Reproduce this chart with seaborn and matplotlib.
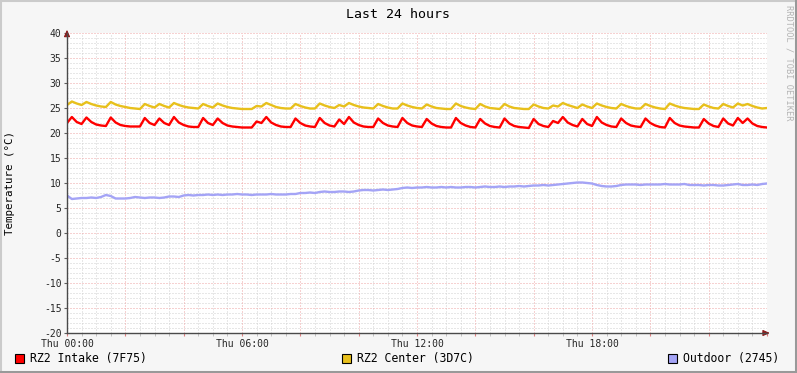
import numpy as np
import pandas as pd
import seaborn as sns
import matplotlib.pyplot as plt
import matplotlib.dates as mdates
from matplotlib.patches import Rectangle
from matplotlib.lines import Line2D

# 10-minute samples, Thu 00:00 .. Fri 00:00
times = pd.date_range("2024-01-04 00:00", periods=145, freq="10min")

intake = [
    22.0, 23.2, 22.2, 21.8, 23.1, 22.2, 21.7, 21.5, 21.4, 23.1,
    22.1, 21.6, 21.4, 21.3, 21.3, 21.3, 23.0, 22.0, 21.6, 22.9,
    22.0, 21.6, 23.2, 22.1, 21.6, 21.3, 21.2, 21.2, 23.0, 22.0,
    21.6, 22.9, 22.0, 21.5, 21.3, 21.2, 21.1, 21.1, 21.1, 22.3,
    22.0, 23.2, 22.1, 21.6, 21.3, 21.2, 21.2, 22.9, 22.0, 21.5,
    21.3, 21.2, 23.0, 22.0, 21.5, 21.3, 22.7, 21.8, 23.2, 22.1,
    21.6, 21.3, 21.2, 21.2, 22.9, 22.0, 21.5, 21.3, 21.2, 23.0,
    22.0, 21.5, 21.3, 21.2, 22.8, 21.9, 21.4, 21.2, 21.1, 21.1,
    23.0, 22.0, 21.5, 21.2, 21.1, 22.8, 21.9, 21.4, 21.2, 21.1,
    22.9, 21.9, 21.4, 21.2, 21.1, 21.0, 22.8, 21.8, 21.4, 21.2,
    22.4, 22.0, 23.2, 22.1, 21.6, 21.3, 22.8, 21.8, 21.4, 23.2,
    22.1, 21.6, 21.3, 21.2, 22.9, 22.0, 21.5, 21.3, 21.2, 22.9,
    22.0, 21.5, 21.2, 21.1, 23.0, 22.0, 21.5, 21.3, 21.2, 21.1,
    21.1, 22.8, 21.9, 21.4, 21.2, 22.9, 21.9, 21.5, 23.0, 22.0,
    22.9, 21.9, 21.4, 21.2, 21.1,
]

center = [
    25.6, 26.3, 25.9, 25.6, 26.2, 25.8, 25.5, 25.3, 25.2, 26.2,
    25.7, 25.4, 25.2, 25.0, 24.9, 24.8, 25.8, 25.4, 25.1, 25.8,
    25.4, 25.1, 26.0, 25.6, 25.3, 25.1, 25.0, 24.9, 25.8, 25.4,
    25.1, 25.9, 25.5, 25.2, 25.0, 24.9, 24.8, 24.8, 24.8, 25.4,
    25.3, 26.0, 25.6, 25.2, 25.0, 24.9, 24.9, 25.8, 25.4, 25.1,
    24.9, 24.9, 25.9, 25.5, 25.2, 25.0, 25.6, 25.3, 26.0, 25.6,
    25.3, 25.1, 25.0, 24.9, 25.8, 25.4, 25.1, 24.9, 24.9, 25.9,
    25.5, 25.2, 25.0, 24.9, 25.7, 25.3, 25.0, 24.9, 24.8, 24.8,
    25.9, 25.4, 25.1, 24.9, 24.8, 25.8, 25.3, 25.0, 24.9, 24.8,
    25.8, 25.3, 25.0, 24.9, 24.8, 24.8, 25.7, 25.3, 25.0, 24.9,
    25.5, 25.3, 26.0, 25.6, 25.3, 25.0, 25.7, 25.3, 25.0, 25.9,
    25.5, 25.2, 25.0, 24.9, 25.8, 25.4, 25.1, 24.9, 24.9, 25.8,
    25.4, 25.1, 24.9, 24.8, 25.9, 25.5, 25.2, 25.0, 24.9, 24.8,
    24.8, 25.7, 25.3, 25.0, 24.9, 25.8, 25.4, 25.1, 25.9, 25.5,
    25.8, 25.4, 25.1, 24.9, 25.0,
]

outdoor = [
    7.5, 6.8, 6.9, 7.0, 7.0, 7.1, 7.0, 7.2, 7.6, 7.4,
    6.9, 6.9, 6.9, 7.0, 7.2, 7.1, 7.0, 7.1, 7.1, 7.0,
    7.1, 7.3, 7.3, 7.2, 7.5, 7.6, 7.5, 7.6, 7.6, 7.7,
    7.6, 7.7, 7.6, 7.7, 7.7, 7.8, 7.7, 7.7, 7.6, 7.7,
    7.7, 7.7, 7.8, 7.7, 7.7, 7.7, 7.8, 7.8, 8.0, 8.0,
    8.1, 8.0, 8.2, 8.3, 8.2, 8.2, 8.3, 8.3, 8.2, 8.3,
    8.5, 8.6, 8.6, 8.5, 8.6, 8.7, 8.6, 8.7, 8.8, 9.0,
    9.1, 9.0, 9.1, 9.1, 9.2, 9.1, 9.1, 9.2, 9.1, 9.2,
    9.1, 9.1, 9.2, 9.2, 9.1, 9.2, 9.3, 9.2, 9.2, 9.3,
    9.2, 9.3, 9.3, 9.4, 9.3, 9.4, 9.5, 9.5, 9.6, 9.5,
    9.6, 9.7, 9.8, 9.9, 10.0, 10.1, 10.1, 10.0, 9.9, 9.6,
    9.4, 9.3, 9.3, 9.4, 9.6, 9.7, 9.7, 9.7, 9.6, 9.7,
    9.7, 9.7, 9.7, 9.8, 9.7, 9.7, 9.7, 9.8, 9.6, 9.6,
    9.6, 9.5, 9.6, 9.6, 9.5, 9.5, 9.6, 9.7, 9.8, 9.6,
    9.6, 9.7, 9.6, 9.8, 9.9,
]

series_names = ["RZ2 Intake (7F75)", "RZ2 Center (3D7C)", "Outdoor (2745)"]
colors = ["#FF0000", "#E8C01C", "#A4A4F6"]
y_ticks = [-20, -15, -10, -5, 0, 5, 10, 15, 20, 25, 30, 35, 40]

df = pd.DataFrame({"time": times, series_names[0]: intake,
                   series_names[1]: center, series_names[2]: outdoor})
long = df.melt(id_vars="time", var_name="sensor", value_name="temp")

sns.set_style("white")
plt.rcParams["font.family"] = ["DejaVu Sans Mono", "DejaVu Sans"]
plt.rcParams["axes.unicode_minus"] = False

W, H = 797, 373
fig = plt.figure(figsize=(W / 100, H / 100), dpi=100)
fig.patch.set_facecolor("#F6F6F6")
ax = fig.add_axes([67 / W, 1 - 333 / H, 700 / W, 300 / H])
ax.set_facecolor("white")

# grid first
minor_c = "#D0D0D0"
major_c = "#EFA4A4"
for v in range(-20, 41):
    if v % 5:
        ax.axhline(v, color=minor_c, lw=0.72, ls=(0, (1, 2)), zorder=0)
for v in y_ticks:
    ax.axhline(v, color=major_c, lw=0.72, ls=(0, (1, 2)), zorder=0.5)
for m in range(0, 24 * 60 + 1, 30):
    t = times[0] + pd.Timedelta(minutes=m)
    if m % 120:
        ax.axvline(t, color=minor_c, lw=0.72, ls=(0, (1, 2)), zorder=0)
    else:
        ax.axvline(t, color=major_c, lw=0.72, ls=(0, (1, 2)), zorder=0.5)

sns.lineplot(data=long, x="time", y="temp", hue="sensor",
             hue_order=series_names, palette=colors, lw=1.7,
             legend=False, ax=ax, zorder=3)

ax.set_xlim(times[0], times[-1])
ax.set_ylim(-20, 40)
ax.set_xlabel("")
ax.set_ylabel("")
ax.set_yticks(y_ticks)
ax.set_yticklabels([str(v) for v in y_ticks])

ax.xaxis.set_major_locator(mdates.HourLocator(byhour=range(0, 24, 2)))
ax.xaxis.set_minor_locator(mdates.MinuteLocator(byminute=[0, 30]))
ax.xaxis.set_major_formatter(plt.FuncFormatter(
    lambda x, pos: mdates.num2date(x).strftime("Thu %H:%M")
    if mdates.num2date(x).hour % 6 == 0 and mdates.num2date(x).day == 4 else ""))

ax.tick_params(axis="y", which="major", length=2, width=0.8, color="#606060",
               labelsize=7, pad=2, left=True)
ax.tick_params(axis="x", which="major", length=2.5, width=0.8, color="#E08080",
               labelsize=7, pad=1.5, bottom=True)
ax.tick_params(axis="x", which="minor", length=2, width=0.6, color="#B8B8B8",
               bottom=True)

for s in ["top", "right"]:
    ax.spines[s].set_visible(False)
for s in ["left", "bottom"]:
    ax.spines[s].set_color("#4A4A4A")
    ax.spines[s].set_linewidth(1.0)
    ax.spines[s].set_zorder(4)

# axis arrows
arrow_c = "#8B1C1C"
ax.annotate("", xy=(0, 1.02), xytext=(0, 0.99), xycoords="axes fraction",
            arrowprops=dict(arrowstyle="-|>,head_length=0.4,head_width=0.18",
                            color=arrow_c, lw=0.8), annotation_clip=False)
ax.annotate("", xy=(1.008, 0), xytext=(0.99, 0), xycoords="axes fraction",
            arrowprops=dict(arrowstyle="-|>,head_length=0.4,head_width=0.18",
                            color=arrow_c, lw=0.8), annotation_clip=False)

fig.text(398 / W, 1 - 14 / H, "Last 24 hours", ha="center", va="center",
         fontsize=9.5, color="black")
fig.text(10 / W, 1 - 183 / H, "Temperature (°C)", rotation=90,
         ha="center", va="center", fontsize=7.8, color="black")
fig.text(789 / W, 1 - 5 / H, "RRDTOOL / TOBI OETIKER", rotation=270,
         ha="center", va="top", fontsize=6.2, color="#B4B4B4")

# legend row
legend_x = [15, 342, 668]
for x0, name, c in zip(legend_x, series_names, colors):
    fig.patches.append(Rectangle((x0 / W, 1 - 363 / H), 9 / W, 9 / H,
                                 transform=fig.transFigure, facecolor=c,
                                 edgecolor="black", lw=0.8))
    fig.text((x0 + 15) / W, 1 - 358.5 / H, name, ha="left", va="center",
             fontsize=8.3, color="black")

# 3d-ish frame
fig.add_artist(Line2D([0, 1], [1 - 1 / H, 1 - 1 / H], color="#CBCBCB", lw=1.5,
                      transform=fig.transFigure))
fig.add_artist(Line2D([1 / W, 1 / W], [0, 1], color="#CBCBCB", lw=1.5,
                      transform=fig.transFigure))
fig.add_artist(Line2D([0, 1], [1.5 / H, 1.5 / H], color="#999999", lw=2.2,
                      transform=fig.transFigure))
fig.add_artist(Line2D([1 - 1.5 / W, 1 - 1.5 / W], [0, 1], color="#999999",
                      lw=2.2, transform=fig.transFigure))

fig.savefig("out.png", dpi=100, facecolor=fig.get_facecolor())
